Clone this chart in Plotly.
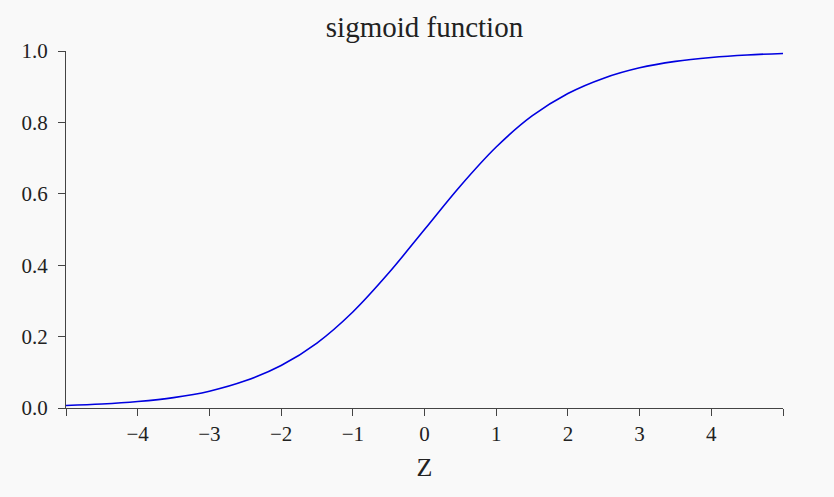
import plotly.graph_objects as go

# values
z = [-5.0, -4.5, -4.0, -3.5, -3.0, -2.5, -2.0, -1.5, -1.0, -0.5, 0.0,
     0.5, 1.0, 1.5, 2.0, 2.5, 3.0, 3.5, 4.0, 4.5, 5.0]
s = [0.007, 0.011, 0.018, 0.029, 0.047, 0.076, 0.119, 0.182, 0.269, 0.378, 0.5,
     0.622, 0.731, 0.818, 0.881, 0.924, 0.953, 0.971, 0.982, 0.989, 0.993]

x_ticks = [-5, -4, -3, -2, -1, 0, 1, 2, 3, 4, 5]
x_labels = ["", "\u22124", "\u22123", "\u22122", "\u22121", "0", "1", "2", "3", "4", ""]
y_ticks = [0.0, 0.2, 0.4, 0.6, 0.8, 1.0]

font = "Liberation Serif, DejaVu Serif, serif"
ink = "#222"

fig = go.Figure(go.Scatter(x=z, y=s, mode="lines", line=dict(color="#0000e0", width=1.6, shape="spline"),
                           showlegend=False))

# page body adds an 8px offset, margins are shifted to compensate
fig.update_layout(
    width=834, height=497,
    paper_bgcolor="#f9f9f9", plot_bgcolor="#f9f9f9",
    margin=dict(l=58, r=59, t=43, b=97),
    font=dict(family=font, size=21, color=ink),
    title=dict(text="sigmoid function", x=0.5, xref="paper", y=0.962, yref="container",
               xanchor="center", yanchor="middle", font=dict(size=29, family=font, color=ink)),
)
fig.update_xaxes(range=[-5, 5], tickvals=x_ticks, ticktext=x_labels, showgrid=False, zeroline=False,
                 showline=True, linecolor="#444", linewidth=1.2, ticks="outside", ticklen=7,
                 tickcolor="#444", tickwidth=1.2,
                 title=dict(text="Z", font=dict(size=26, family=font, color=ink), standoff=12))
fig.update_yaxes(range=[0, 1], tickvals=y_ticks, tickformat=".1f", showgrid=False, zeroline=False,
                 showline=True, linecolor="#444", linewidth=1.2, ticks="outside", ticklen=7,
                 tickcolor="#444", tickwidth=1.2, ticklabelstandoff=6)

fig.write_html("out.html", post_script="document.body.style.background='#f9f9f9';")
